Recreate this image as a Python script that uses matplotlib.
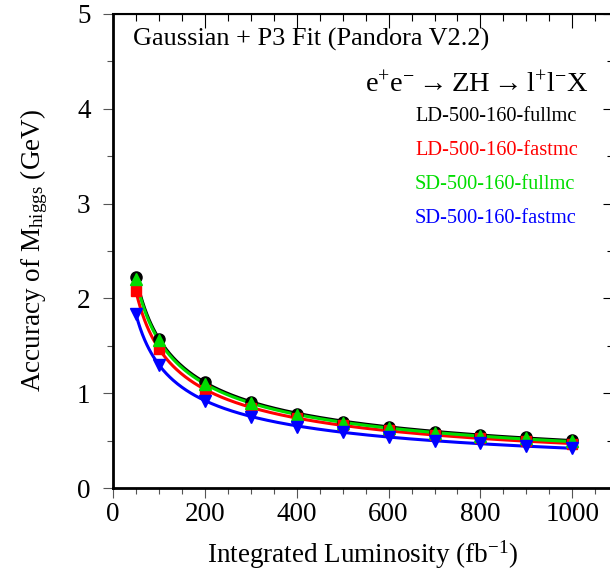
import numpy as np
import matplotlib
matplotlib.use("Agg")
import matplotlib.pyplot as plt
from matplotlib.ticker import MultipleLocator
from matplotlib.lines import Line2D

plt.rcParams['font.family'] = ['Liberation Serif', 'DejaVu Serif']
plt.rcParams['mathtext.fontset'] = 'custom'
plt.rcParams['mathtext.rm'] = 'Liberation Serif'
plt.rcParams['mathtext.it'] = 'Liberation Serif:italic'

# Data
lumi = [50, 100, 200, 300, 400, 500, 600, 700, 800, 900, 1000]
ld_fullmc = [2.23, 1.57, 1.115, 0.91, 0.78, 0.70, 0.647, 0.594, 0.56, 0.535, 0.506]
ld_fastmc = [2.08, 1.47, 1.034, 0.84, 0.735, 0.665, 0.612, 0.56, 0.524, 0.50, 0.464]
sd_fullmc = [2.20, 1.56, 1.10, 0.893, 0.77, 0.683, 0.633, 0.58, 0.55, 0.524, 0.496]
sd_fastmc = [1.835, 1.30, 0.918, 0.752, 0.647, 0.594, 0.541, 0.496, 0.471, 0.443, 0.419]

labels = ["LD-500-160-fullmc", "LD-500-160-fastmc", "SD-500-160-fullmc", "SD-500-160-fastmc"]
colors = ["black", "#ff0000", "#00dd00", "#0000ff"]
markers = ["o", "s", "^", "v"]
msizes = [8, 7, 8.5, 8.5]
series = [ld_fullmc, ld_fastmc, sd_fullmc, sd_fastmc]

fig = plt.figure(figsize=(6.10, 5.71), dpi=100)
W, H = 610, 571
ax = fig.add_axes([113 / W, 1 - 488 / H, (613 - 113) / W, (488 - 14) / H])

x = np.array(lumi, dtype=float)
xf = np.linspace(50, 1000, 400)
for ys, c in zip(series, colors):
    p = np.polyfit(1 / np.sqrt(x), np.array(ys), 1)
    ax.plot(xf, np.polyval(p, 1 / np.sqrt(xf)), color=c, lw=2.2, zorder=2)
for ys, c, m, ms in zip(series, colors, markers, msizes):
    ax.plot(x, ys, linestyle='none', marker=m, color=c, ms=ms, zorder=3)

ax.set_xlim(0, (613 - 113) / 0.4593)
ax.set_ylim(0, 5)

ax.xaxis.set_major_locator(MultipleLocator(200))
ax.xaxis.set_minor_locator(MultipleLocator(50))
ax.yaxis.set_major_locator(MultipleLocator(1))
ax.yaxis.set_minor_locator(MultipleLocator(0.5))
ax.tick_params(axis='both', which='major', direction='out', length=7.2, width=0.8,
               labelsize=19.5, color='#555555')
ax.tick_params(axis='both', which='minor', direction='out', length=4, width=0.8, color='#555555')
ax.tick_params(axis='y', which='major', pad=9)
ax.tick_params(axis='x', which='major', pad=3)
for s in ['left', 'bottom']:
    ax.spines[s].set_linewidth(2)
for s in ['top', 'right']:
    ax.spines[s].set_linewidth(1.5)

secx = ax.secondary_xaxis('top')
secx.xaxis.set_major_locator(MultipleLocator(200))
secx.xaxis.set_minor_locator(MultipleLocator(50))
secx.tick_params(which='major', direction='in', length=10, width=0.8, labeltop=False)
secx.tick_params(which='minor', direction='in', length=5, width=0.8)
secy = ax.secondary_yaxis('right')
secy.yaxis.set_major_locator(MultipleLocator(1))
secy.yaxis.set_minor_locator(MultipleLocator(0.5))
secy.tick_params(which='major', direction='in', length=7.2, width=0.8, labelright=False)
secy.tick_params(which='minor', direction='in', length=4, width=0.8)

ax.set_xlabel(r"Integrated Luminosity (fb$^{-1}$)", fontsize=19.5, labelpad=8)
ax.set_ylabel(r"Accuracy of M$_{\mathrm{higgs}}$ (GeV)", fontsize=19.5, labelpad=19)

fig.text(133 / W, 1 - 46 / H, "Gaussian + P3 Fit (Pandora V2.2)", fontsize=18.9, va='baseline', ha='left')
fig.text(365 / W, 1 - 93 / H, r"$\mathrm{e^{+}e^{-}} \rightarrow \mathrm{ZH} \rightarrow \mathrm{l^{+}l^{-}X}$",
         fontsize=20.5, va='baseline', ha='left')

handles = [Line2D([], [], color=c, linestyle='none') for c in colors]
leg = ax.legend(handles, labels, loc='upper left', bbox_to_anchor=(415 / W, 1 - 107 / H),
                bbox_transform=fig.transFigure, frameon=False, handlelength=0, handletextpad=0,
                borderpad=0, borderaxespad=0, labelspacing=0.72, fontsize=14.7, labelcolor='linecolor')

fig.savefig("out.png", dpi=100)
